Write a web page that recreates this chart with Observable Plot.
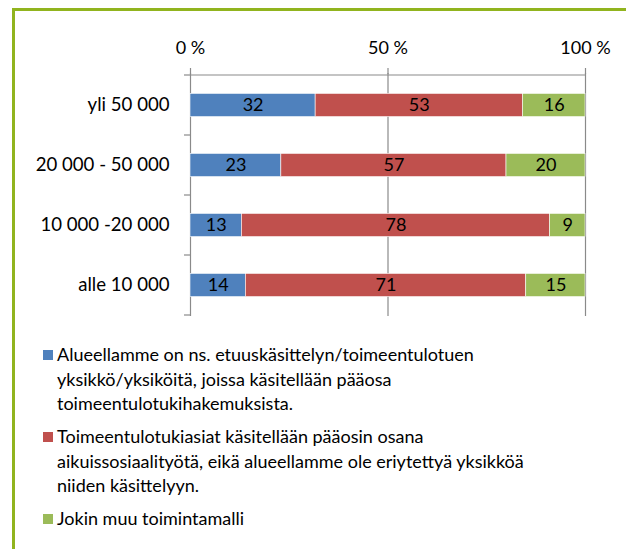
<!DOCTYPE html>
<html><head><meta charset="utf-8">
<script src="https://cdn.jsdelivr.net/npm/d3@7"></script>
<script src="https://cdn.jsdelivr.net/npm/@observablehq/plot@0.6"></script>
<style>
html,body{margin:0;padding:0;background:#fff;overflow:hidden;width:626px;height:549px;}
body{position:relative;font-family:Lato,"Open Sans",sans-serif;}
#frame{position:absolute;left:12px;top:8px;width:800px;height:800px;border:3px solid #91B41E;box-sizing:border-box;}
#chart{position:absolute;left:0;top:0;}
#legend{position:absolute;left:43px;top:342px;font-size:18px;line-height:24.5px;color:#000;}
.item{display:flex;align-items:flex-start;margin-bottom:8.5px;}
.sw{width:10px;height:10px;margin-top:8px;margin-right:4px;flex:none;}
.tx{white-space:pre-line;}
</style></head><body>
<div id="frame"></div>
<div id="chart"></div>
<div id="legend"></div>
<script>
const categories = ["yli 50 000", "20 000 - 50 000", "10 000 -20 000", "alle 10 000"];
const seriesNames = [
  "Alueellamme on ns. etuuskäsittelyn/toimeentulotuen\nyksikkö/yksiköitä, joissa käsitellään pääosa\ntoimeentulotukihakemuksista.",
  "Toimeentulotukiasiat käsitellään pääosin osana\naikuissosiaalityötä, eikä alueellamme ole eriytettyä yksikköä\nniiden käsittelyyn.",
  "Jokin muu toimintamalli"
];
const seriesColors = ["#4F81BD", "#C0504D", "#9BBB59"];
const blueValues = [32, 23, 13, 14];
const redValues = [53, 57, 78, 71];
const greenValues = [16, 20, 9, 15];
const xTicks = [0, 0.5, 1];
const xTickLabels = ["0 %", "50 %", "100 %"];

const seriesValues = [blueValues, redValues, greenValues];
const data = [];
seriesValues.forEach((vals, s) => {
  categories.forEach((c, i) => data.push({cat: c, series: seriesNames[s], value: vals[i]}));
});

const gridColor = "#8a8a8a";

const plot = Plot.plot({
  width: 626,
  height: 326,
  marginTop: 73,
  marginBottom: 10,
  marginLeft: 190,
  marginRight: 41,
  style: {fontFamily: "Lato, 'Open Sans', sans-serif", fontSize: "18px", color: "#000", background: "transparent"},
  x: {domain: [0, 1], axis: null},
  y: {domain: categories, padding: 0, axis: null},
  color: {domain: seriesNames, range: seriesColors},
  marks: [
    Plot.gridX(xTicks, {stroke: gridColor, strokeOpacity: 1, strokeWidth: 1.2}),
    Plot.barX(data, Plot.stackX({
      x: "value", y: "cat", z: "series", fill: "series", offset: "normalize",
      insetTop: 18.4, insetBottom: 18.4, stroke: "#fff", strokeWidth: 0.6
    })),
    Plot.text(data, Plot.stackX({
      x: "value", y: "cat", z: "series", offset: "normalize",
      text: "value", fill: "#000", fontSize: 18
    })),
    Plot.axisX({anchor: "top", label: null, ticks: xTicks, tickFormat: d => xTickLabels[xTicks.indexOf(d)],
      tickSize: 6, tickPadding: 14, stroke: gridColor, strokeWidth: 1.2, fontSize: 18}),
    Plot.axisY({label: null, tickSize: 0, tickPadding: 21, fontSize: 18.6})
  ]
});

// axis line on top and category boundary ticks on the left, placed via the plot's scales
const xs = plot.scale("x"), ys = plot.scale("y");
const svg = d3.select(plot.tagName.toLowerCase() === "svg" ? plot : plot.querySelector("svg"));
const x0 = xs.apply(0), x1 = xs.apply(1);
const step = ys.step;
const bounds = categories.map(c => ys.apply(c)).concat([ys.apply(categories[categories.length - 1]) + step]);
const g = svg.append("g").attr("stroke", gridColor).attr("stroke-width", 1.2);
g.append("line").attr("x1", x0).attr("x2", x1).attr("y1", bounds[0]).attr("y2", bounds[0]);
bounds.forEach(b => g.append("line").attr("x1", x0 - 6).attr("x2", x0).attr("y1", b).attr("y2", b));

document.getElementById("chart").appendChild(plot);

const legend = document.getElementById("legend");
seriesNames.forEach((n, i) => {
  const it = document.createElement("div"); it.className = "item";
  const sw = document.createElement("div"); sw.className = "sw"; sw.style.background = seriesColors[i];
  const tx = document.createElement("div"); tx.className = "tx"; tx.textContent = n;
  it.appendChild(sw); it.appendChild(tx); legend.appendChild(it);
});
</script>
</body></html>
